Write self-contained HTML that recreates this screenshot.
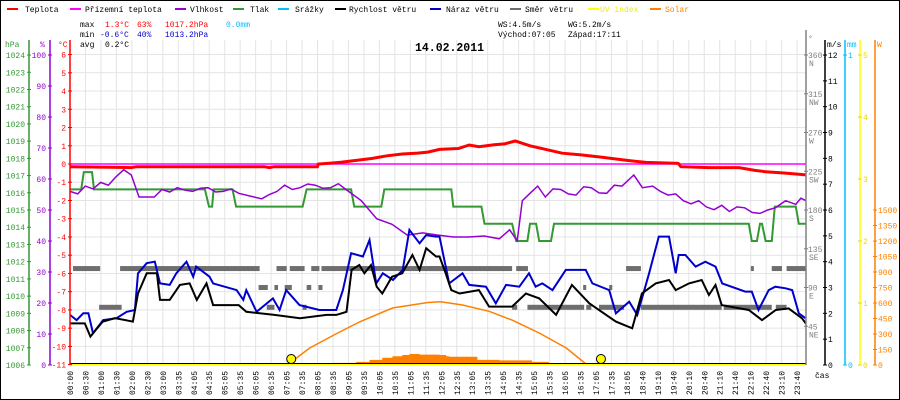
<!DOCTYPE html>
<html><head><meta charset="utf-8"><style>
html,body{margin:0;padding:0;background:#fff}
svg{display:block}
text{font-family:"Liberation Mono",monospace;font-size:8px}
</style></head><body>
<svg id="chart" width="900" height="400" viewBox="0 0 900 400" xmlns="http://www.w3.org/2000/svg">
<rect x="0.5" y="0.5" width="899" height="399" fill="#fff" stroke="#000"/>
<g id="grid"></g>
<g id="series"></g>
<g id="axes"></g>
<g>
<line x1="7" y1="9" x2="18" y2="9" stroke="#f00" stroke-width="2"/><text x="25" y="12">Teplota</text>
<line x1="70" y1="9" x2="81" y2="9" stroke="#f0f" stroke-width="2"/><text x="85" y="12">Přízemní teplota</text>
<line x1="175" y1="9" x2="186" y2="9" stroke="#90c" stroke-width="2"/><text x="190" y="12">Vlhkost</text>
<line x1="233" y1="9" x2="244" y2="9" stroke="#393" stroke-width="2"/><text x="250" y="12">Tlak</text>
<line x1="278" y1="9" x2="289" y2="9" stroke="#00bfff" stroke-width="2"/><text x="295" y="12">Srážky</text>
<line x1="335" y1="9" x2="346" y2="9" stroke="#000" stroke-width="2"/><text x="349" y="12">Rychlost větru</text>
<line x1="430" y1="9" x2="441" y2="9" stroke="#00c" stroke-width="2"/><text x="446" y="12">Náraz větru</text>
<line x1="510" y1="9" x2="521" y2="9" stroke="#6e6e6e" stroke-width="2"/><text x="525" y="12">Směr větru</text>
<line x1="588" y1="9" x2="599" y2="9" stroke="#ff0" stroke-width="2"/><text x="600" y="12" fill="#ee0">UV index</text>
<line x1="650" y1="9" x2="661" y2="9" stroke="#ff8000" stroke-width="2"/><text x="665" y="12" fill="#ff8000">Solar</text>
</g>
<g>
<text x="80" y="27">max</text><text x="105" y="27" fill="#f00">1.3°C</text><text x="137" y="27" fill="#f00">63%</text><text x="165" y="27" fill="#f00">1017.2hPa</text><text x="226" y="27" fill="#00bfff">0.0mm</text>
<text x="80" y="37">min</text><text x="100" y="37" fill="#00c">-0.6°C</text><text x="137" y="37" fill="#00c">40%</text><text x="165" y="37" fill="#00c">1013.2hPa</text>
<text x="80" y="47">avg</text><text x="105" y="47">0.2°C</text>
<text x="498" y="27">WS:4.5m/s</text><text x="568" y="27">WG:5.2m/s</text>
<text x="498" y="37">Východ:07:05</text><text x="568" y="37">Západ:17:11</text>
</g>
<text x="415" y="51" style="font-size:11.5px;font-weight:bold">14.02.2011</text>
<text x="815" y="378">čas</text>
</svg>
<script>
const timeLabels=["00:00","00:30","01:00","01:30","02:00","02:30","03:00","03:35","04:05","04:35","05:05","05:35","06:05","06:35","07:05","07:35","08:05","08:35","09:05","09:35","10:05","10:35","11:05","11:35","12:05","12:35","13:05","13:35","14:05","14:35","15:05","15:35","16:05","16:35","17:05","17:35","18:05","18:40","19:10","19:40","20:10","20:40","21:10","21:40","22:10","22:40","23:10","23:40"];
const tempT=[0,120,130,380,390,400,484,486,510,530,560,590,620,650,680,700,723,760,781,800,830,850,871,900,963,1000,1041,1090,1127,1190,1195,1250,1309,1340,1361,1400,1440];
const tempV=[-0.15,-0.2,-0.15,-0.15,-0.2,-0.15,-0.15,0.0,0.05,0.1,0.2,0.3,0.45,0.55,0.6,0.65,0.8,0.85,1.04,0.95,1.05,1.1,1.26,1.0,0.59,0.5,0.37,0.2,0.09,0.04,-0.15,-0.2,-0.2,-0.35,-0.42,-0.5,-0.6];
const appT=[0,1440];
const appV=[0,0];
const humT=[0,15,30,45,60,75,90,105,120,135,165,180,195,210,225,240,255,270,285,300,315,330,360,375,390,405,420,435,450,465,480,495,510,525,540,570,600,630,660,690,720,750,780,810,840,860,875,885,900,915,930,945,960,975,990,1005,1020,1035,1050,1065,1080,1103,1120,1140,1155,1170,1185,1200,1215,1230,1245,1260,1275,1290,1305,1320,1335,1350,1365,1380,1400,1420,1430,1440];
const humV=[56.0,55.2,57.7,56.8,58.9,58.0,60.7,63.0,61.3,54.2,54.2,56.6,55.8,57.2,56.4,56.0,57.0,57.2,55.8,56.0,56.8,55.4,54.2,53.6,55.0,56.0,58.0,56.6,57.2,58.4,58.0,57.0,57.2,58.5,56.6,53.0,47.2,45.4,41.9,42.6,41.9,41.3,41.3,41.6,40.7,43.6,40.1,53.0,55.4,57.7,54.2,56.8,56.6,55.2,54.8,57.5,57.2,55.5,55.4,58.0,57.7,61.3,57.2,57.7,56.0,54.8,55.2,53.0,52.0,53.0,51.0,50.1,51.5,49.5,51.0,50.7,49.2,48.9,50.0,50.7,53.0,51.8,53.8,53.0];
const presT=[0,22,27,43,47,264,272,278,281,318,325,455,463,550,556,609,615,746,750,805,811,865,873,895,900,912,918,941,947,1328,1334,1344,1350,1354,1361,1373,1379,1420,1426,1440];
const presV=[1016.2,1016.2,1017.2,1017.2,1016.2,1016.2,1015.2,1015.2,1016.2,1016.2,1015.2,1015.2,1016.2,1016.2,1015.2,1015.2,1016.2,1016.2,1015.2,1015.2,1014.2,1014.2,1013.2,1013.2,1014.2,1014.2,1013.2,1013.2,1014.2,1014.2,1013.2,1013.2,1014.2,1014.2,1013.2,1013.2,1015.2,1015.2,1014.2,1014.2];
const windT=[0,29,40,50,64,88,123,133,150,170,176,195,215,234,248,267,280,330,345,400,450,502,521,541,551,566,576,589,600,611,630,650,670,684,697,716,723,735,746,762,800,820,865,892,918,951,982,1016,1068,1100,1119,1146,1172,1185,1211,1236,1250,1263,1275,1328,1354,1381,1406,1432,1440];
const windV=[1.61,1.61,1.1,1.35,1.68,1.81,1.68,2.77,3.55,3.55,2.52,2.52,3.1,3.16,2.52,3.16,2.32,2.32,2.06,1.94,1.81,1.94,1.94,2.06,3.68,3.87,3.55,3.87,3.03,2.77,3.42,3.55,4.26,3.68,4.52,4.2,4.2,3.55,2.9,2.77,2.9,2.26,2.26,2.77,2.58,1.94,3.1,2.39,1.68,1.42,2.77,3.16,3.29,2.9,3.16,3.29,2.71,3.1,2.32,2.13,1.74,2.13,2.19,1.81,1.6];
const gustT=[0,13,26,36,45,65,91,111,127,133,150,166,176,195,208,228,241,247,273,280,326,339,345,365,397,410,423,449,488,521,534,550,573,586,599,612,632,651,664,684,697,716,723,742,768,781,814,833,853,879,898,911,924,944,970,1009,1022,1055,1068,1094,1110,1133,1152,1172,1185,1191,1204,1224,1243,1263,1276,1321,1334,1347,1367,1380,1400,1413,1426,1439];
const gustV=[1.94,1.74,2.0,2.0,1.23,1.74,1.81,2.06,2.13,3.55,3.94,4.0,3.16,3.1,3.55,4.0,3.42,3.81,3.42,3.16,2.9,2.52,2.9,2.06,2.58,2.13,2.9,2.32,2.13,2.13,2.9,4.33,4.2,4.84,3.16,3.55,3.29,3.68,5.23,4.71,5.03,4.97,4.97,3.16,3.55,3.1,3.03,2.39,3.1,3.03,3.55,3.03,3.16,2.9,3.68,3.68,3.16,2.9,2.0,2.45,1.94,3.55,4.97,4.97,3.55,4.26,4.26,3.81,4.0,3.81,3.16,2.84,2.84,2.13,2.9,3.03,2.97,2.9,2.0,1.81];
const dirStart=[6,98,404,430,472,492,703,873,1088,1332,1373,1402,57,385,455,865,895,1010,1035,1117,1279,1381,369,400,420,463,486,1004,1055];
const dirEnd=[59,371,424,459,488,723,865,896,1117,1338,1393,1440,101,400,463,875,1006,1020,1084,1275,1373,1402,387,407,434,472,494,1010,1061];
const dirDeg=[112,112,112,112,112,112,112,112,112,112,112,112,67,67,67,67,67,67,67,67,67,67,90,90,90,90,90,90,90];
const solT=[425,469,520,566,631,700,725,768,820,865,918,971,1012];
const solV=[0,165,300,416,552,605,612,581,520,435,310,165,0];
const solarT=[475,514,560,586,611,631,650,664,684,723,736,742,791,797,840,904,937,1016];
const solarV=[10,20,30,50,70,85,97,107,100,97,85,80,80,50,45,30,10,0];
const uvT=[0,1440];
const uvV=[0,0];
const sunEvents=[425,1031];

const NS="http://www.w3.org/2000/svg";
const X=m=>70+m*736/1440;
const yT=t=>164-t*18.24;
const yH=h=>365-h*3.1;
const yP=p=>365-(p-1006)*17.22;
const yW=w=>365-w*25.83;
const yD=d=>365-d*310/360;
const yS=s=>365-s*0.10333;
function mk(tag,attrs,parent){const e=document.createElementNS(NS,tag);for(const k in attrs)e.setAttribute(k,attrs[k]);parent.appendChild(e);return e;}
const grid=document.getElementById('grid'),ser=document.getElementById('series'),ax=document.getElementById('axes');

for(let t=-11;t<=6;t++){const l=mk('line',{x1:70,x2:806,y1:yT(t),y2:yT(t),stroke:'#e4e4e4'},grid);

}
timeLabels.forEach((lb,i)=>{const x=70+i*15.47;
const g=mk('line',{x1:x,x2:x,y1:40,y2:365,stroke:'#e4e4e4'},grid);


const tk=mk('text',{x:0,y:0,transform:`translate(${x+3},395) rotate(-90)`},ax);
tk.textContent=lb;

});

function line(ts,vs,fy,color,w,name){const pts=ts.map((t,i)=>X(t).toFixed(1)+','+fy(vs[i]).toFixed(1)).join(' ');
const p=mk('polyline',{points:pts,fill:'none',stroke:color,'stroke-width':w,'stroke-linejoin':'miter'},ser);

}

{let d='M'+X(solarT[0])+',365';for(let i=0;i<solarT.length-1;i++){d+=' L'+X(solarT[i])+','+yS(solarV[i])+' L'+X(solarT[i+1])+','+yS(solarV[i]);}d+=' L'+X(solarT[solarT.length-1])+',365 Z';
const a=mk('path',{d:d,fill:'#ff8000'},ser);

}
dirStart.forEach((s,i)=>{const r=mk('rect',{x:X(s),y:yD(dirDeg[i])-2.5,width:X(dirEnd[i])-X(s),height:5,fill:'#6e6e6e'},ser);

});
line(solT,solV,yS,'#ff8000',1.5,'solar-max-curve');
line(presT,presV,yP,'#339933',2,'pressure-line');
line(humT,humV,yH,'#9400d3',1.5,'humidity-line');
line(gustT,gustV,yW,'#0000cc',2,'wind-gust-line');
line(windT,windV,yW,'#000',2,'wind-speed-line');
line(appT,appV,yT,'#ff00ff',1.5,'apparent-temp-line');
line(tempT,tempV,yT,'#ff0000',3,'temperature-line');
line(uvT,uvV,v=>364.5-v*62,'#ffff00',2,'uv-line');
{const b=mk('line',{x1:70,x2:806,y1:363.5,y2:363.5,stroke:'#000','stroke-width':1},ser);

}
sunEvents.forEach(m=>{const c=mk('circle',{cx:X(m)+4,cy:359,r:4.5,fill:'#ff0',stroke:'#000','stroke-width':1},ser);

});

function axis(x,y1,y2,color,name){const l=mk('line',{x1:x,x2:x,y1:y1,y2:y2,stroke:color,'stroke-width':1.5},ax);

}
function tick(x,y,color,label,tx,anchor,name){mk('line',{x1:x-2,x2:x+2,y1:y,y2:y,stroke:color},ax);
const t=mk('text',{x:tx,y:y+3,fill:color,'text-anchor':anchor},ax);t.textContent=label;

}
axis(29,40,365,'#339933','pressure-axis');
axis(50,40,365,'#9400d3','humidity-axis');
axis(70,40,365,'#ff0000','temperature-axis');
axis(806,30,365,'#808080','direction-axis');
axis(825,40,365,'#000','wind-axis');
axis(845,40,365,'#00bfff','rain-axis');
axis(860,40,365,'#ffff00','uv-axis');
axis(875,40,365,'#ff8000','solar-axis');
const hpaTicks=[1006,1007,1008,1009,1010,1011,1012,1013,1014,1015,1016,1017,1018,1019,1020,1021,1022,1023,1024];
const humTicks=[0,10,20,30,40,50,60,70,80,90,100];
const tempTicks=[-11,-10,-9,-8,-7,-6,-5,-4,-3,-2,-1,0,1,2,3,4,5,6];
const windTicks=[0,1,2,3,4,5,6,7,8,9,10,11,12];
const dirTicks=[45,90,135,180,225,270,315,360];
const dirNames=["NE","E","SE","S","SW","W","NW","N"];
const uvTicks=[0,1,2,3,4,5];
const solTicks=[0,150,300,450,600,750,900,1050,1200,1350,1500];
hpaTicks.forEach(v=>tick(29,yP(v),'#339933',String(v),25,'end','pressure-tick-label'));
humTicks.forEach(v=>tick(50,yH(v),'#9400d3',String(v),46,'end','humidity-tick-label'));
tempTicks.forEach(v=>tick(70,yT(v),'#ff0000',String(v),66,'end','temperature-tick-label'));
windTicks.forEach(v=>tick(825,yW(v),'#000',String(v),828,'start','wind-tick-label'));
dirTicks.forEach((v,i)=>{tick(806,yD(v),'#808080',String(v),808,'start','direction-tick-label');
const n=mk('text',{x:809,y:yD(v)+11,fill:'#808080'},ax);n.textContent=dirNames[i];

});
[0,1].forEach(v=>tick(845,365-v*310,'#00bfff',String(v),848,'start','rain-tick-label'));
uvTicks.forEach(v=>tick(860,365-v*62,'#e6d800',String(v),863,'start','uv-tick-label'));
solTicks.forEach(v=>tick(875,yS(v),'#ff8000',String(v),878,'start','solar-tick-label'));
[['hPa',5,'#339933'],['%',40,'#9400d3'],['°C',58,'#ff0000'],['°',808,'#808080'],['m/s',827,'#000'],['mm',847,'#00bfff'],['W',877,'#ff8000']].forEach(a=>{
const t=mk('text',{x:a[1],y:a[0]==='°'?41:47,fill:a[2]},ax);t.textContent=a[0];

});
</script>
</body></html>
